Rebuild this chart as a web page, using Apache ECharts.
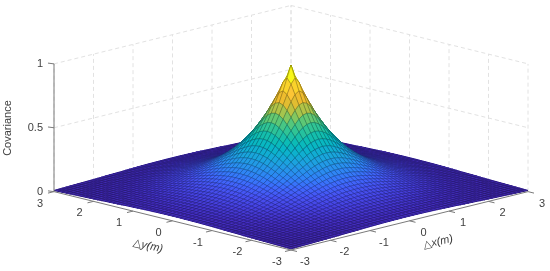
<!DOCTYPE html>
<html><head><meta charset="utf-8">
<style>html,body{margin:0;padding:0;background:#fff}#c{width:550px;height:271px}</style>
<script src="https://cdn.jsdelivr.net/npm/echarts@6/dist/echarts.min.js"></script>
</head><body><div id="c"></div>
<script>
const xTicks=[-3,-2,-1,0,1,2,3];
const yTicks=[-3,-2,-1,0,1,2,3];
const zTicks=[0,0.5,1];
const zTickLabels=['0','0.5','1'];
const axisTitleZ='Covariance';
// Covariance (in thousandths) read from the surface; row = larger of |dx|,|dy| in 0.1 m steps, column = the smaller.
const covRows=[
[990],
[896,856],
[803,782,733],
[719,707,673,627],
[644,636,612,577,537],
[577,571,553,527,495,460],
[517,512,499,478,453,424,393],
[463,460,449,433,412,388,363,337],
[415,412,404,391,374,355,333,311,289],
[372,370,363,353,339,322,304,286,266,247],
[333,331,326,318,306,293,278,261,245,228,211],
[299,297,293,286,276,265,252,238,224,210,195,181],
[267,266,263,257,249,240,229,217,205,192,180,167,155],
[240,238,236,231,224,216,207,197,187,176,165,154,143,133],
[215,214,211,207,202,195,188,179,170,161,151,142,132,123,114],
[192,192,190,186,182,176,169,162,154,146,138,130,121,113,105,97],
[172,172,170,167,163,159,153,147,140,133,126,118,111,104,97,90,83],
[154,154,152,150,147,143,138,133,127,121,114,108,101,95,89,83,77,71],
[138,138,137,134,132,128,124,120,115,110,104,98,93,87,82,76,71,66,61],
[124,124,123,121,118,115,112,108,104,99,94,90,85,80,75,70,65,61,56,52],
[111,111,110,108,106,104,101,97,94,90,86,81,77,73,68,64,60,56,52,48,45],
[99,99,98,97,95,93,91,88,85,81,78,74,70,66,62,59,55,51,48,45,41,38],
[89,89,88,87,86,84,82,79,76,73,70,67,64,60,57,54,50,47,44,41,38,35,33],
[80,80,79,78,77,75,73,71,69,66,63,61,57,55,52,49,46,43,40,38,35,33,30,28],
[71,71,71,70,69,68,66,64,62,60,57,55,52,50,47,45,42,39,37,35,33,30,28,26,24],
[64,64,63,63,62,61,59,57,56,54,52,50,47,45,43,41,38,36,34,32,30,28,26,24,22,21],
[57,57,57,56,55,55,53,52,50,49,47,45,43,41,39,37,35,33,31,29,27,25,24,22,20,19,18],
[51,51,51,50,50,49,48,47,45,44,42,41,39,37,35,34,32,30,28,27,25,23,22,20,19,18,16,15],
[46,46,46,45,45,44,43,42,41,39,38,37,35,34,32,30,29,27,26,24,23,21,20,19,17,16,15,14,13],
[41,41,41,41,40,39,39,38,37,36,34,33,32,30,29,28,26,25,24,22,21,20,18,17,16,15,14,13,12,11],
[37,37,37,36,36,35,35,34,33,32,31,30,29,27,26,25,24,23,21,20,19,18,17,16,15,14,13,12,11,10,9]
];
const parulaStops=[[62,38,168],[68,46,195],[70,65,225],[71,82,243],[64,103,253],[50,127,249],[40,145,238],[30,160,225],[18,172,212],[8,182,198],[12,188,180],[35,193,160],[60,198,140],[105,200,110],[160,198,80],[205,190,55],[238,188,45],[252,195,55],[250,211,42],[245,230,30],[249,251,21]];

const K=9.83/129;
const GRID_N=30;
function cov(i,j){const a=Math.abs(i),b=Math.abs(j);return covRows[Math.max(a,b)][Math.min(a,b)]/1000;}
function colorOf(v,shade){
  const t=Math.max(0,Math.min(1,v))*(parulaStops.length-1),k=Math.min(parulaStops.length-2,Math.floor(t)),f=t-k;
  const a=parulaStops[k],b=parulaStops[k+1];
  return 'rgb('+a.map((c,n)=>Math.round((c+(b[n]-c)*f)*shade)).join(',')+')';
}
const faces=[];
for(let i=GRID_N-1;i>=-GRID_N;i--)for(let j=GRID_N-1;j>=-GRID_N;j--){
  faces.push([i/10,(i+1)/10,j/10,(j+1)/10,cov(i,j),cov(i+1,j),cov(i+1,j+1),cov(i,j+1)]);
}
const P=(x,y,z)=>[x-y,z+K*(x+y)];
const xMin=xTicks[0],xMax=xTicks[6],yMin=yTicks[0],yMax=yTicks[6];
const wallSegs=[];
xTicks.forEach(x=>wallSegs.push([...P(x,yMax,0),...P(x,yMax,1)]));
yTicks.forEach(y=>wallSegs.push([...P(xMax,y,0),...P(xMax,y,1)]));
zTicks.forEach(z=>{wallSegs.push([...P(xMin,yMax,z),...P(xMax,yMax,z)]);wallSegs.push([...P(xMax,yMax,z),...P(xMax,yMin,z)]);});
const TL=0.152;
const axisSegs=[[...P(xMin,yMax,0),...P(xMin,yMax,1)],[...P(xMin,yMax,0),...P(xMin,yMin,0)],[...P(xMin,yMin,0),...P(xMax,yMin,0)]];
yTicks.forEach(y=>axisSegs.push([...P(xMin,y,0),...P(xMin-TL,y,0)]));
xTicks.forEach(x=>axisSegs.push([...P(x,yMin,0),...P(x,yMin-TL,0)]));
zTicks.forEach(z=>{const p=P(xMin,yMax,z);axisSegs.push([p[0],p[1],p[0]-TL,p[1]+0.006]);});
const texts=[];
yTicks.forEach(y=>texts.push([...P(xMin,y,0),-14,12,String(y),0,0]));
xTicks.forEach(x=>texts.push([...P(x,yMin,0),14,12,String(x),0,0]));
zTicks.forEach((z,n)=>texts.push([...P(xMin,yMax,z),-11,0,zTickLabels[n],0,1]));
const textFont='"Liberation Sans",Arial,sans-serif';
const segSeries=(data,z,style)=>({type:'custom',coordinateSystem:'cartesian2d',silent:true,z,clip:false,animation:false,data,
  encode:{x:0,y:1},
  renderItem:(p,api)=>{const a=api.coord([api.value(0),api.value(1)]),b=api.coord([api.value(2),api.value(3)]);
    return {type:'line',shape:{x1:a[0],y1:a[1],x2:b[0],y2:b[1]},style};}});
const faceSeries=(z,styleOf)=>({type:'custom',coordinateSystem:'cartesian2d',silent:true,z,clip:false,animation:false,progressive:0,data:faces,
  encode:{x:0,y:2},
  renderItem:(p,api)=>{
    const x0=api.value(0),x1=api.value(1),y0=api.value(2),y1=api.value(3);
    const zs=[api.value(4),api.value(5),api.value(6),api.value(7)];
    const pts=[P(x0,y0,zs[0]),P(x1,y0,zs[1]),P(x1,y1,zs[2]),P(x0,y1,zs[3])].map(q=>api.coord(q));
    return {type:'polygon',shape:{points:pts},style:styleOf(Math.max(...zs))};
  }});
const chart=echarts.init(document.getElementById('c'),null,{renderer:'canvas'});
chart.setOption({
  animation:false,backgroundColor:'#fff',
  grid:{left:54,width:474,top:-2.5,height:258},
  xAxis:{type:'value',min:-6,max:6,show:false},
  yAxis:{type:'value',min:-0.5,max:1.5,show:false},
  series:[
    segSeries(wallSegs,1,{stroke:'#e2e2e2',lineWidth:1,lineDash:[4,3],fill:null}),
    faceSeries(2,v=>({fill:colorOf(v,1),stroke:colorOf(v,1),lineWidth:1})),
    faceSeries(3,v=>({fill:colorOf(v,1),stroke:colorOf(v,0.5),lineWidth:0.4})),
    segSeries(axisSegs,4,{stroke:'#7a7a7a',lineWidth:1,fill:null}),
    {type:'custom',coordinateSystem:'cartesian2d',silent:true,z:5,clip:false,animation:false,data:texts,
     encode:{x:0,y:1},
     renderItem:(p,api)=>{
       const c=api.coord([api.value(0),api.value(1)]);
       const right=api.value(6)===1;
       return {type:'text',x:c[0]+api.value(2),y:c[1]+api.value(3),
         style:{text:texts[p.dataIndex][4],font:'11px '+textFont,fill:'#404040',textAlign:right?'right':'center',verticalAlign:'middle'}};
     }}
  ],
  graphic:[
    {type:'text',x:8,y:128,rotation:Math.PI/2,z:10,style:{text:axisTitleZ,font:'11px '+textFont,fill:'#404040',textAlign:'center',verticalAlign:'middle'}},
    {type:'text',x:148,y:246,rotation:-0.22,z:10,style:{text:'{a|△}{b|y(m)}',textAlign:'center',verticalAlign:'middle',rich:{a:{font:'11px "DejaVu Sans"',fill:'#404040'},b:{font:'italic 11px '+textFont,fill:'#404040'}}}},
    {type:'text',x:438,y:242,rotation:0.24,z:10,style:{text:'{a|△}{b|x(m)}',textAlign:'center',verticalAlign:'middle',rich:{a:{font:'11px "DejaVu Sans"',fill:'#404040'},b:{font:'italic 11px '+textFont,fill:'#404040'}}}}
  ]
});
</script></body></html>
